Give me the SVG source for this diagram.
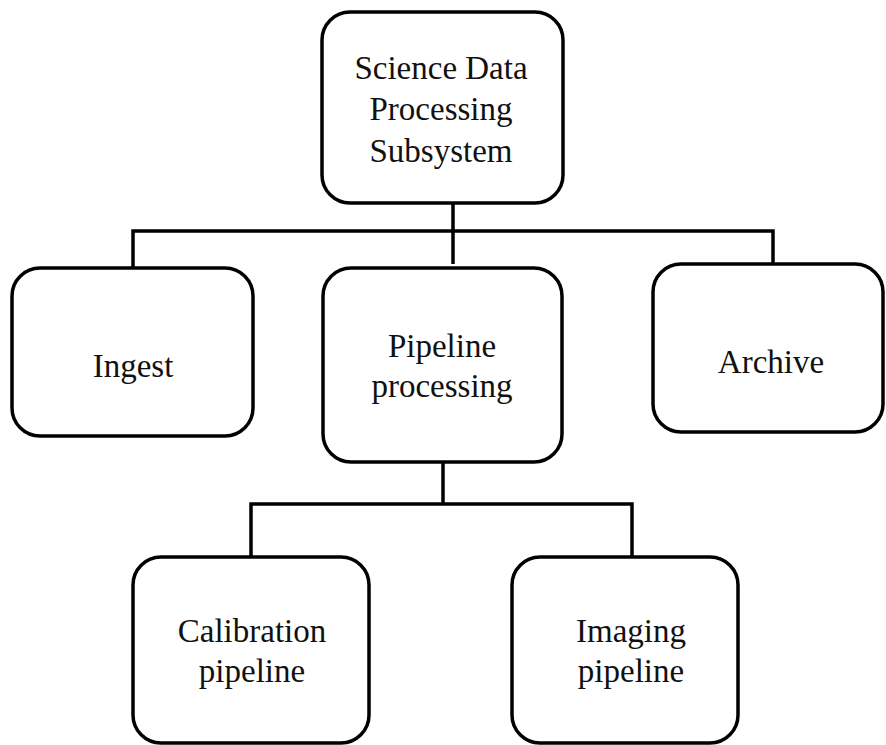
<svg xmlns="http://www.w3.org/2000/svg" width="886" height="745" viewBox="0 0 886 745">
<style>
.box{fill:#fff;stroke:#000;stroke-width:3.5}
.conn{fill:none;stroke:#000;stroke-width:3.5;stroke-linejoin:miter}
text{font-family:"Liberation Serif","Times New Roman",serif;font-size:33px;fill:#111;text-anchor:middle}
</style>
<rect width="886" height="745" fill="#fff"/>
<g id="connectors">
<path class="conn" d="M453 203 V264"/>
<path class="conn" d="M133 268 V231 H773 V264"/>
<path class="conn" d="M443 462 V504"/>
<path class="conn" d="M251 557 V504 H632 V557"/>
</g>
<g id="sdps">
<rect class="box" x="322" y="12" width="241" height="191" rx="28"/>
<text x="441" y="79">Science Data</text>
<text x="441" y="120">Processing</text>
<text x="441" y="162">Subsystem</text>
</g>
<g id="ingest">
<rect class="box" x="12" y="268" width="241" height="168" rx="28"/>
<text x="133" y="377">Ingest</text>
</g>
<g id="pipeline">
<rect class="box" x="323" y="268" width="239" height="194" rx="28"/>
<text x="442" y="357">Pipeline</text>
<text x="442" y="397">processing</text>
</g>
<g id="archive">
<rect class="box" x="653" y="264" width="230" height="168" rx="28"/>
<text x="771" y="373">Archive</text>
</g>
<g id="calibration">
<rect class="box" x="133" y="557" width="236" height="186" rx="28"/>
<text x="252" y="642">Calibration</text>
<text x="252" y="682">pipeline</text>
</g>
<g id="imaging">
<rect class="box" x="512" y="557" width="226" height="186" rx="28"/>
<text x="631" y="642">Imaging</text>
<text x="631" y="682">pipeline</text>
</g>
</svg>
